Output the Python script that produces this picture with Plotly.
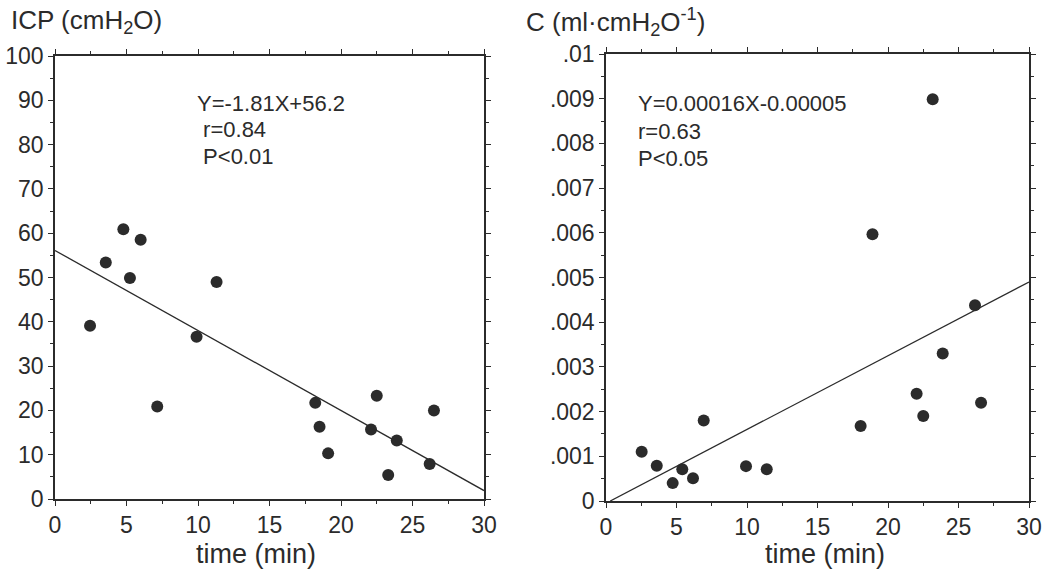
import plotly.graph_objects as go

# Left panel: ICP vs time
icp_time = [2.45, 3.55, 4.78, 5.24, 5.99, 7.15, 9.9, 11.3, 18.2, 18.5, 19.1, 22.1, 22.5, 23.3, 23.9, 26.2, 26.5]
icp_val = [39.1, 53.4, 60.9, 49.9, 58.5, 20.9, 36.6, 49.0, 21.7, 16.3, 10.3, 15.7, 23.3, 5.4, 13.2, 7.9, 20.0]
icp_fit_x = [0, 30]
icp_fit_y = [56.1, 1.9]

# Right panel: compliance vs time
c_time = [2.53, 3.6, 4.73, 5.41, 6.17, 6.93, 9.93, 11.4, 18.06, 18.9, 22.03, 22.5, 23.17, 23.88, 26.17, 26.6]
c_val = [0.0011, 0.00079, 0.0004, 0.00071, 0.00051, 0.0018, 0.00078, 0.00071, 0.00168, 0.00597, 0.0024, 0.0019, 0.00899, 0.0033, 0.00438, 0.0022]
c_fit_x = [0.3, 30]
c_fit_y = [0.0, 0.0049]

x_ticks = [0, 5, 10, 15, 20, 25, 30]
icp_ticks = [0, 10, 20, 30, 40, 50, 60, 70, 80, 90, 100]
c_tickvals = [0, 0.001, 0.002, 0.003, 0.004, 0.005, 0.006, 0.007, 0.008, 0.009, 0.01]
c_ticktext = ["0", ".001", ".002", ".003", ".004", ".005", ".006", ".007", ".008", ".009", ".01"]

left_text = ["Y=-1.81X+56.2", " r=0.84", " P<0.01"]
right_text = ["Y=0.00016X-0.00005", "r=0.63", "P<0.05"]

INK = "#2b2b2b"
FONT = "Liberation Sans, Arial, sans-serif"

fig = go.Figure()
fig.add_trace(go.Scatter(x=icp_time, y=icp_val, mode="markers",
                         marker=dict(size=12, color=INK), xaxis="x", yaxis="y", showlegend=False))
fig.add_trace(go.Scatter(x=icp_fit_x, y=icp_fit_y, mode="lines",
                         line=dict(color=INK, width=1.3), xaxis="x", yaxis="y", showlegend=False))
fig.add_trace(go.Scatter(x=c_time, y=c_val, mode="markers",
                         marker=dict(size=12, color=INK), xaxis="x2", yaxis="y2", showlegend=False))
fig.add_trace(go.Scatter(x=c_fit_x, y=c_fit_y, mode="lines",
                         line=dict(color=INK, width=1.3), xaxis="x2", yaxis="y2", showlegend=False))

axis_common = dict(showgrid=False, zeroline=False, showline=True, linecolor=INK, linewidth=1.5,
                   mirror="allticks", ticks="outside", ticklen=5, tickwidth=1.2, tickcolor=INK,
                   automargin=False,
                   tickfont=dict(family=FONT, size=23, color=INK))

xaxis_common = dict(axis_common, range=[0, 30], tickvals=x_ticks,
                    minor=dict(dtick=2.5, ticks="outside", ticklen=3, tickcolor=INK, tickwidth=1))

fig.update_layout(
    width=1048, height=569,
    margin=dict(l=0, r=0, t=0, b=0),
    paper_bgcolor="white", plot_bgcolor="white",
    font=dict(family=FONT, color=INK),
    xaxis=dict(xaxis_common, domain=[55 / 1048, 484 / 1048], anchor="y"),
    yaxis=dict(axis_common, range=[0, 100], tickvals=icp_ticks,
               domain=[70 / 569, 513 / 569], anchor="x",
               minor=dict(dtick=5, ticks="outside", ticklen=3, tickcolor=INK, tickwidth=1)),
    xaxis2=dict(xaxis_common, domain=[606 / 1048, 1029 / 1048], anchor="y2"),
    yaxis2=dict(axis_common, range=[0, 0.01], tickvals=c_tickvals, ticktext=c_ticktext,
                domain=[68 / 569, 515 / 569], anchor="x2",
                minor=dict(dtick=0.0005, ticks="outside", ticklen=3, tickcolor=INK, tickwidth=1)),
)

def px(x, y, **kw):
    d = dict(x=x / 1048, y=1 - y / 569, xref="paper", yref="paper", showarrow=False)
    d.update(kw)
    return d

annotations = [
    px(9, 22, text="ICP (cmH<sub>2</sub>O)", xanchor="left", yanchor="middle",
       font=dict(family=FONT, size=26, color=INK)),
    px(524, 22, text="C (ml·cmH<sub>2</sub>O<sup>-1</sup>)", xanchor="left", yanchor="middle",
       font=dict(family=FONT, size=26, color=INK)),
    px(256, 554, text="time (min)", xanchor="center", yanchor="middle",
       font=dict(family=FONT, size=27, color=INK)),
    px(825, 554, text="time (min)", xanchor="center", yanchor="middle",
       font=dict(family=FONT, size=27, color=INK)),
]
left_y = [103, 129, 156]
for t, py in zip(left_text, left_y):
    annotations.append(px(195, py, text=t, xanchor="left", yanchor="middle",
                          font=dict(family=FONT, size=22, color=INK)))
right_y = [103, 131, 158]
for t, py in zip(right_text, right_y):
    annotations.append(px(636, py, text=t, xanchor="left", yanchor="middle",
                          font=dict(family=FONT, size=22, color=INK)))
fig.update_layout(annotations=annotations)

fig.write_html("out.html", config={"displayModeBar": False},
               post_script="document.body.style.margin='0';document.body.style.overflow='hidden';")
